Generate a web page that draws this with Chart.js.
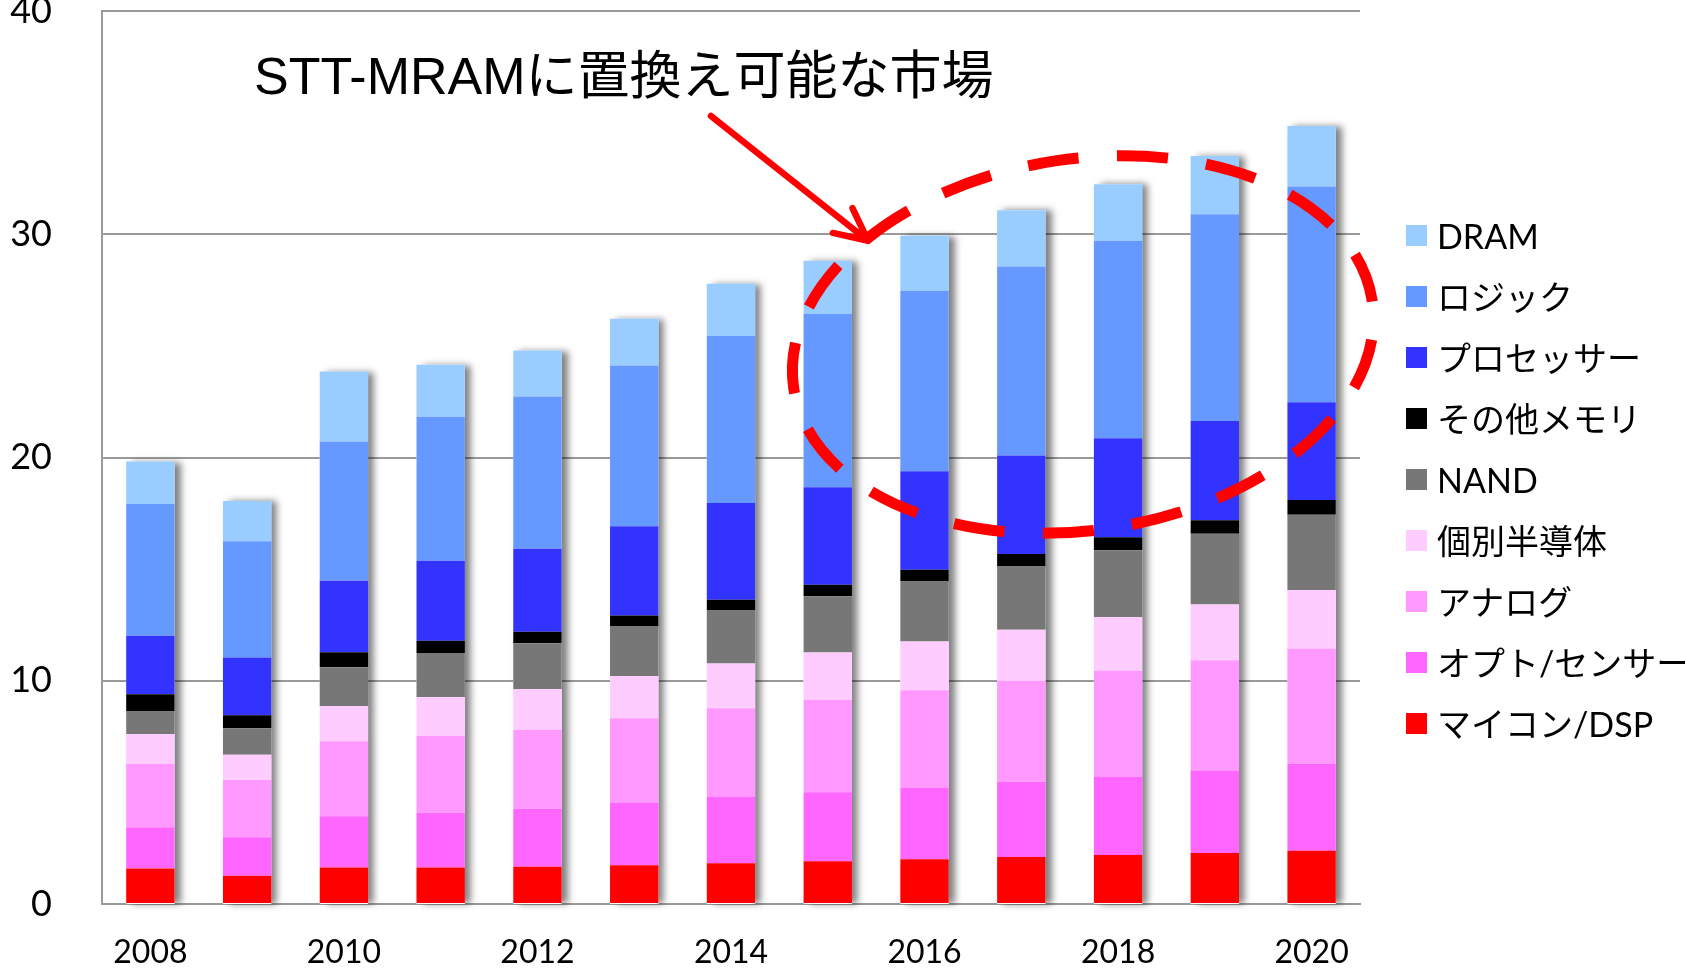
<!DOCTYPE html>
<html>
<head>
<meta charset="utf-8">
<script src="https://cdn.jsdelivr.net/npm/chart.js@4.4.1/dist/chart.umd.min.js"></script>
<style>
html,body{margin:0;padding:0;background:#fff;overflow:hidden;}
#wrap{position:relative;width:1685px;height:969px;}
#c{position:absolute;left:0;top:0;}
#title{position:absolute;left:254px;top:50px;font-family:"Liberation Sans","Noto Sans CJK JP",sans-serif;font-size:52px;line-height:52px;white-space:nowrap;color:#000;}
#legend{position:absolute;left:1406px;top:205px;}
.item{display:flex;align-items:center;height:61px;}
.box{width:21px;height:21px;margin-right:10px;flex:none;}
.lbl{font-family:Lato,"Noto Sans CJK JP",sans-serif;font-size:34px;line-height:40px;color:#000;white-space:nowrap;}
</style>
</head>
<body>
<div id="wrap">
  <canvas id="c" width="1685" height="969"></canvas>
  <div id="title">STT-MRAMに置換え可能な市場</div>
  <div id="legend"></div>
</div>
<script>
// ---- data ----
const years = ['2008','2009','2010','2011','2012','2013','2014','2015','2016','2017','2018','2019','2020'];
const yTicks = [0, 10, 20, 30, 40];

const mcuDsp      = [1.59,1.26,1.64,1.64,1.67,1.74,1.83,1.92,2.01,2.10,2.19,2.28,2.39];
const optSensor   = [1.85,1.73,2.29,2.45,2.60,2.78,2.96,3.09,3.21,3.38,3.52,3.70,3.89];
const analog      = [2.84,2.56,3.36,3.45,3.54,3.80,3.98,4.14,4.35,4.52,4.74,4.94,5.16];
const discrete    = [1.34,1.13,1.58,1.73,1.82,1.89,2.00,2.11,2.19,2.28,2.41,2.50,2.62];
const nand        = [1.00,1.19,1.74,1.97,2.05,2.22,2.40,2.53,2.69,2.84,2.99,3.16,3.38];
const otherMemory = [0.77,0.58,0.67,0.55,0.51,0.49,0.46,0.51,0.52,0.56,0.58,0.61,0.66];
const processor   = [2.63,2.59,3.20,3.58,3.72,4.00,4.33,4.37,4.41,4.41,4.43,4.44,4.37];
const logic       = [5.90,5.21,6.24,6.46,6.82,7.20,7.48,7.77,8.09,8.47,8.85,9.27,9.67];
const dram        = [1.90,1.80,3.13,2.33,2.06,2.10,2.34,2.37,2.46,2.52,2.53,2.61,2.71];

const seriesNames  = ['マイコン/DSP','オプト/センサー','アナログ','個別半導体','NAND','その他メモリ','プロセッサー','ロジック','DRAM'];
const seriesValues = [mcuDsp, optSensor, analog, discrete, nand, otherMemory, processor, logic, dram];
const seriesColors = ['#FF0000','#FF66FF','#FF99FF','#FFCCFF','#777777','#000000','#3333FF','#6699FF','#99CCFF'];

// annotation anchors (category index / value units)
const ellipseAnchor = {idx: 9.637, val: 25.06, rx: 3.023, ry: 8.32, rotDeg: -8.6, dashes: 17};
const arrowAnchor = {fromIdx: 5.793, fromVal: 35.30, toIdx: 7.416, toVal: 29.71};

// ---- legend (HTML) ----
const legendEl = document.getElementById('legend');
for (let i = seriesNames.length - 1; i >= 0; i--) {
  const it = document.createElement('div'); it.className = 'item';
  const bx = document.createElement('div'); bx.className = 'box'; bx.style.background = seriesColors[i];
  const tx = document.createElement('div'); tx.className = 'lbl'; tx.textContent = seriesNames[i];
  it.appendChild(bx); it.appendChild(tx); legendEl.appendChild(it);
}

Chart.defaults.font.family = 'Lato, "Noto Sans CJK JP", sans-serif';
Chart.defaults.color = '#000';

const barShadow = {
  id: 'barShadow',
  beforeDatasetsDraw(chart) {
    const ctx = chart.ctx;
    const top = chart.getDatasetMeta(chart.data.datasets.length - 1);
    const base = chart.scales.y.getPixelForValue(0);
    ctx.save();
    ctx.shadowColor = 'rgba(0,0,0,0.5)';
    ctx.shadowBlur = 7;
    ctx.shadowOffsetX = 6;
    ctx.shadowOffsetY = 0;
    ctx.fillStyle = '#ffffff';
    top.data.forEach(el => {
      const p = el.getProps(['x','y','width'], true);
      ctx.fillRect(p.x - p.width/2, p.y, p.width, base - p.y);
    });
    ctx.restore();
  }
};

const annotation = {
  id: 'annotation',
  afterDatasetsDraw(chart) {
    const ctx = chart.ctx, xs = chart.scales.x, ys = chart.scales.y;
    const catW = (xs.right - xs.left) / years.length;
    const pxv = ys.getPixelForValue(0) - ys.getPixelForValue(1);
    // dashed ellipse
    const cx = xs.getPixelForValue(ellipseAnchor.idx), cy = ys.getPixelForValue(ellipseAnchor.val);
    const a = ellipseAnchor.rx * catW, b = ellipseAnchor.ry * pxv;
    let P = 0, px = a, py = 0;
    for (let k = 1; k <= 2000; k++) {
      const t = 2*Math.PI*k/2000, nx = a*Math.cos(t), ny = b*Math.sin(t);
      P += Math.hypot(nx-px, ny-py); px = nx; py = ny;
    }
    const period = P / ellipseAnchor.dashes, d = period*0.57, g = period - d;
    ctx.save();
    ctx.strokeStyle = '#FF0000';
    ctx.lineWidth = 11;
    ctx.lineCap = 'butt';
    ctx.setLineDash([d, g]);
    ctx.lineDashOffset = d + g/2 - 20;
    ctx.beginPath();
    ctx.ellipse(cx, cy, a, b, ellipseAnchor.rotDeg*Math.PI/180, 0, 2*Math.PI);
    ctx.stroke();
    ctx.restore();
    // arrow
    const sx = xs.getPixelForValue(arrowAnchor.fromIdx), sy = ys.getPixelForValue(arrowAnchor.fromVal);
    const ex = xs.getPixelForValue(arrowAnchor.toIdx), ey = ys.getPixelForValue(arrowAnchor.toVal);
    const ang = Math.atan2(ey - sy, ex - sx), L = 36, sp = 26*Math.PI/180;
    ctx.save();
    ctx.strokeStyle = '#FF0000';
    ctx.lineWidth = 6.5;
    ctx.lineCap = 'round';
    ctx.lineJoin = 'round';
    ctx.beginPath();
    ctx.moveTo(sx, sy); ctx.lineTo(ex, ey);
    ctx.moveTo(ex - L*Math.cos(ang - sp), ey - L*Math.sin(ang - sp));
    ctx.lineTo(ex, ey);
    ctx.lineTo(ex - L*Math.cos(ang + sp), ey - L*Math.sin(ang + sp));
    ctx.stroke();
    ctx.restore();
  }
};

new Chart(document.getElementById('c'), {
  type: 'bar',
  data: {
    labels: years,
    datasets: seriesNames.map((n, i) => ({
      label: n, data: seriesValues[i], backgroundColor: seriesColors[i], borderWidth: 0
    }))
  },
  options: {
    responsive: false,
    animation: false,
    events: [],
    layout: {padding: {left: 0, top: 11, right: 325, bottom: 0}},
    datasets: {bar: {categoryPercentage: 1, barPercentage: 0.5}},
    plugins: {legend: {display: false}, tooltip: {enabled: false}},
    scales: {
      x: {
        stacked: true,
        grid: {display: false, drawTicks: false},
        border: {display: true, color: '#9a9a9a', width: 2},
        ticks: {
          padding: 29, font: {size: 32}, color: '#000', autoSkip: false, maxRotation: 0,
          callback: (v, i) => (i % 2 === 0 ? years[i] : '')
        },
        afterFit: s => { s.height = 65; s.paddingLeft = 0; s.paddingRight = 0; s.paddingTop = 0; s.paddingBottom = 0; }
      },
      y: {
        stacked: true, min: yTicks[0], max: yTicks[yTicks.length - 1],
        afterBuildTicks: s => { s.ticks = yTicks.map(v => ({value: v})); },
        ticks: {padding: 50, font: {size: 36}, color: '#000'},
        grid: {color: '#9a9a9a', lineWidth: 2, drawTicks: false},
        border: {display: true, color: '#9a9a9a', width: 2},
        afterFit: s => { s.width = 102; s.paddingTop = 0; s.paddingBottom = 0; s.paddingLeft = 0; s.paddingRight = 0; }
      }
    }
  },
  plugins: [barShadow, annotation]
});
</script>
</body>
</html>
